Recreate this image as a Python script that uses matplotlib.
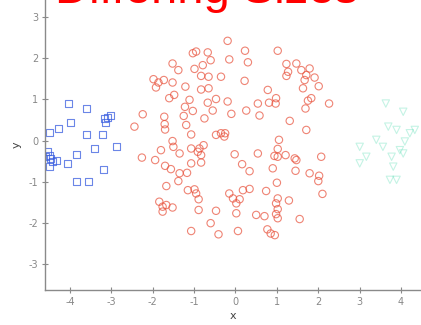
import matplotlib
matplotlib.use("Agg")
import matplotlib.pyplot as plt

plt.rcParams['axes.unicode_minus'] = False

# ---- data ----
blue_x = [-4.04, -3.60, -4.27, -4.50, -3.99, -3.60, -3.21, -3.13, -3.09, -3.02, -3.17,
          -2.87, -3.41, -3.84, -4.06, -4.32, -4.50, -4.58, -4.50, -4.54, -4.46, -3.19,
          -3.84, -3.56, -4.42]
blue_y = [0.89, 0.78, 0.30, 0.19, 0.44, 0.14, 0.14, 0.44, 0.57, 0.62, 0.54,
          -0.15, -0.20, -0.33, -0.55, -0.49, -0.37, -0.39, -0.63, -0.27, -0.43, -0.71,
          -0.98, -0.98, -0.51]

red_x = [-0.19, -0.95, -1.03, -0.67, 0.23, 1.02, -0.60, -0.15, 0.30, -1.52, -0.79, -0.99,
         -1.38, -0.83, -0.65, -0.35, -1.98, -1.86, -1.73, -1.92, -1.52, -1.21, 0.22, 1.23,
         1.27, 1.23, 1.47, 1.59, 1.79, 1.71, 1.91, 1.67, 2.01, 1.63, 1.83, 1.75, 1.69, 2.26,
         1.31, 1.71, -0.83, -0.65, 0.78, -1.60, -1.48, -1.11, -1.22, -1.03, -1.25, -0.67,
         -0.47, -0.55, -0.75, -0.19, -0.10, 0.26, 0.54, 0.58, 0.81, 0.98, 0.97, -2.24,
         -2.44, -1.72, -1.71, -1.70, -1.19, -1.07, -0.47, -0.35, -0.27, -0.25, -1.52, -1.50,
         -1.80, -1.35, -2.26, -1.94, -1.07, -0.91, -0.83, -0.77, -0.87, -1.07, -0.83, -1.70,
         -1.56, -1.35, -1.17, -1.38, -1.67, -0.02, 0.16, 0.34, 0.54, 1.05, 1.02, 0.94, 1.02,
         1.21, 1.43, 1.47, 1.45, 2.07, 0.90, 1.79, 2.02, 2.00, 1.00, 0.74, 0.18, 0.34, -0.15,
         -0.06, 0.10, 0.02, -1.15, -0.99, -0.95, -0.89, -1.84, -1.76, -1.67, -1.52, -1.76,
         -0.89, -0.47, 0.02, -0.60, -1.07, -0.41, 0.06, 1.02, 0.98, 1.29, 1.02, 0.98, 0.50,
         0.70, 1.02, 1.55, 0.77, 0.85, 0.95, 2.10]
red_y = [2.42, 2.16, 2.12, 2.14, 2.18, 2.18, 1.95, 1.97, 1.90, 1.87, 1.83, 1.74,
         1.71, 1.57, 1.55, 1.55, 1.49, 1.41, 1.47, 1.29, 1.41, 1.31, 1.45, 1.86,
         1.67, 1.57, 1.87, 1.71, 1.75, 1.59, 1.53, 1.47, 1.32, 1.27, 1.03, 0.97, 0.78, 0.90,
         0.48, 0.26, 1.24, 1.27, 1.23, 1.03, 1.11, 0.99, 0.82, 0.72, 0.60, 0.92,
         1.01, 0.73, 0.54, 0.95, 0.65, 0.73, 0.90, 0.61, 0.92, 1.03, 0.90, 0.64,
         0.34, 0.58, 0.40, 0.27, 0.38, 0.15, 0.14, 0.18, 0.10, 0.18, -0.01, -0.15,
         -0.23, -0.31, -0.41, -0.47, -0.19, -0.27, -0.35, -0.11, -0.19, -0.55, -0.53, -0.61,
         -0.69, -0.79, -0.78, -0.98, -1.10, -0.33, -0.57, -0.74, -0.31, 0.02, -0.20, -0.37, -0.39,
         -0.35, -0.43, -0.47, -0.73, -0.39, -0.67, -0.79, -0.85, -0.98, -1.02, -1.22, -1.20, -1.17, -1.28,
         -1.40, -1.42, -1.52, -1.20, -1.18, -1.28, -1.42, -1.48, -1.60, -1.56, -1.62, -1.72,
         -1.68, -1.70, -1.76, -2.00, -2.19, -2.27, -2.19, -1.40, -1.52, -1.45, -1.66, -1.78, -1.80,
         -1.83, -1.88, -1.90, -2.15, -2.25, -2.29, -1.29]

cyan_x = [3.63, 4.05, 3.69, 3.89, 3.00, 3.40, 3.56, 3.97, 4.21, 4.33, 3.00, 3.77,
          3.81, 3.89, 4.05, 3.16, 4.09, 3.73]
cyan_y = [0.90, 0.70, 0.34, 0.26, -0.15, 0.02, -0.15, -0.23, 0.18, 0.26, -0.55, -0.39,
          -0.63, -0.95, -0.31, -0.39, -0.02, -0.95]

x_ticks = [-4, -3, -2, -1, 0, 1, 2, 3, 4]
y_ticks = [-3, -2, -1, 0, 1, 2, 3]
title_text = "Differing Sizes"

# ---- figure ----
W, H = 421, 325
fig = plt.figure(figsize=(W / 100, H / 100), dpi=100)
left_px, bottom_px = 45, 290
ax = fig.add_axes([left_px / W, (H - bottom_px) / H, (W - left_px) / W, bottom_px / H])
ax.set_xlim(-4.6, 4.48)
ax.set_ylim(-3.62, 3.41)

ax.scatter(red_x, red_y, s=28, marker='o', facecolors='none',
           edgecolors='#e8503a', linewidths=0.8, alpha=0.7)
ax.scatter(blue_x, blue_y, s=26, marker='s', facecolors='none',
           edgecolors='#3a5ee0', linewidths=0.8, alpha=0.75)
ax.scatter(cyan_x, cyan_y, s=28, marker='v', facecolors='none',
           edgecolors='#3ed8a8', linewidths=0.8, alpha=0.3)

for s in ['top', 'right']:
    ax.spines[s].set_visible(False)
for s in ['left', 'bottom']:
    ax.spines[s].set_color('#8a8a8a')
    ax.spines[s].set_linewidth(1.0)

ax.set_xticks(x_ticks)
ax.set_yticks(y_ticks)
ax.tick_params(direction='inout', length=4, width=0.8, color='#8a8a8a',
               labelsize=7, labelcolor='#888888', pad=3)
ax.set_xlabel('x', fontsize=8, color='#444444', labelpad=3)
ax.set_ylabel('y', fontsize=8, color='#444444', labelpad=5)

fig.text(207 / W, 1 - 3 / H, title_text, color='red', fontsize=34,
         ha='center', va='baseline', family='Liberation Sans')

fig.savefig('out.png', dpi=100)
